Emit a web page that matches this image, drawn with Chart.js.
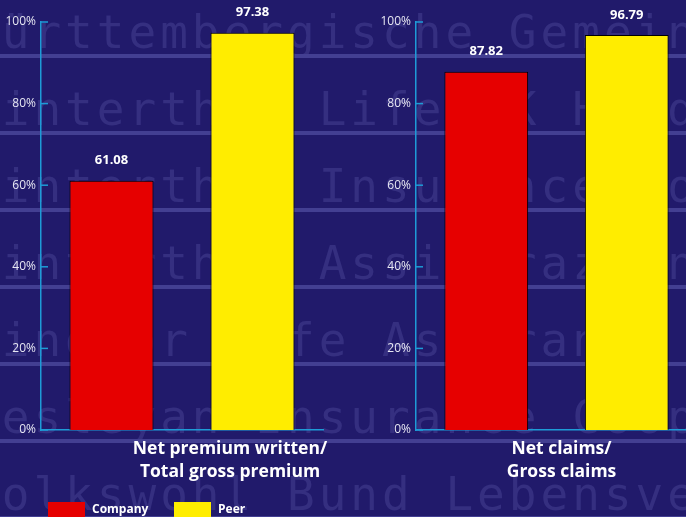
<!DOCTYPE html>
<html>
<head>
<meta charset="utf-8">
<script src="https://cdn.jsdelivr.net/npm/chart.js@4.4.1/dist/chart.umd.min.js"></script>
<style>
html, body { margin: 0; padding: 0; width: 686px; height: 517px; overflow: hidden; background: #211a6b; }
canvas { position: absolute; top: 0; }
#bg { left: 0; }
#c1 { left: 0; }
#c2 { left: 340px; }
</style>
</head>
<body>
<canvas id="bg" width="686" height="517"></canvas>
<canvas id="c1" width="340" height="517"></canvas>
<canvas id="c2" width="370" height="517"></canvas>
<script>
// data
const categories = [['Net premium written/', 'Total gross premium'], ['Net claims/', 'Gross claims']];
const seriesNames = ['Company', 'Peer'];
const company = [61.08, 87.82];
const peer = [97.38, 96.79];
const yTicks = [0, 20, 40, 60, 80, 100];

const colors = ['#e60000', '#ffed00'];
const axisColor = '#1e9bd7';
const font = '"Open Sans", "DejaVu Sans", sans-serif';

// background watermark (decoration only)
function drawBackground() {
    const ctx = document.getElementById('bg').getContext('2d');
    ctx.fillStyle = '#211a6b';
    ctx.fillRect(0, 0, 686, 517);
    const rows = [
        'Württembergische Gemeinde',
        'Winterthur Life UK Holdings',
        'Winterthur Insurance Company',
        'Winterthur Assicurazioni S.p.A.',
        'Windsor Life Assurance Company',
        'Wesleyan Insurance Cooperative',
        'Volkswohl Bund Lebensversicherung'
    ];
    ctx.font = '46px "DejaVu Sans Mono", monospace';
    ctx.letterSpacing = '4px';
    ctx.textBaseline = 'alphabetic';
    rows.forEach((txt, i) => {
        ctx.fillStyle = '#352f80';
        ctx.fillText(txt, -30, 48 + i * 77);
        ctx.fillStyle = '#433f92';
        ctx.fillRect(0, 54 + i * 77, 686, 4);
    });
}
drawBackground();

const innerTicks = {
    id: 'innerTicks',
    afterDraw(chart) {
        const y = chart.scales.y;
        const ctx = chart.ctx;
        ctx.save();
        ctx.strokeStyle = axisColor;
        ctx.lineWidth = 1.5;
        y.ticks.forEach((t, i) => {
            const py = y.getPixelForTick(i);
            ctx.beginPath();
            ctx.moveTo(y.right, py);
            ctx.lineTo(y.right + 7, py);
            ctx.stroke();
        });
        ctx.restore();
    }
};

const valueLabels = {
    id: 'valueLabels',
    afterDatasetsDraw(chart) {
        const ctx = chart.ctx;
        ctx.save();
        ctx.fillStyle = '#ffffff';
        ctx.font = 'bold 13px ' + font;
        ctx.textAlign = 'center';
        ctx.textBaseline = 'middle';
        chart.data.datasets.forEach((ds, di) => {
            chart.getDatasetMeta(di).data.forEach((bar, i) => {
                ctx.fillText(ds.data[i].toFixed(2), bar.x, bar.y - 20);
            });
        });
        ctx.restore();
    }
};

const bottomLegend = {
    id: 'bottomLegend',
    afterDraw(chart) {
        const ctx = chart.ctx;
        const xs = [48, 174];
        ctx.save();
        ctx.font = 'bold 12px ' + font;
        ctx.textBaseline = 'middle';
        chart.data.datasets.forEach((ds, i) => {
            ctx.fillStyle = ds.backgroundColor;
            ctx.fillRect(xs[i], 502, 37, 20);
            ctx.fillStyle = '#ffffff';
            ctx.fillText(ds.label, xs[i] + 44, 510);
        });
        ctx.restore();
    }
};

function makeChart(id, idx, padLeft, padRight, labelOffset, withLegend) {
    const plugins = [innerTicks, valueLabels];
    if (withLegend) plugins.push(bottomLegend);
    return new Chart(document.getElementById(id), {
        type: 'bar',
        data: {
            labels: [categories[idx]],
            datasets: [
                { label: seriesNames[0], data: [company[idx]], backgroundColor: colors[0], borderColor: '#000', borderWidth: 1 },
                { label: seriesNames[1], data: [peer[idx]], backgroundColor: colors[1], borderColor: '#000', borderWidth: 1 }
            ]
        },
        options: {
            responsive: false,
            animation: false,
            layout: { autoPadding: false, padding: { top: 22, left: padLeft, right: padRight, bottom: 0 } },
            datasets: { bar: { categoryPercentage: 1.0, barPercentage: 0.596 } },
            plugins: { legend: { display: false }, tooltip: { enabled: false } },
            scales: {
                x: {
                    grid: { display: false, drawTicks: false },
                    border: { display: true, color: axisColor, width: 1.5 },
                    ticks: {
                        color: '#ffffff',
                        font: { family: font, size: 17.5, weight: 'bold', lineHeight: 1.35 },
                        padding: 7,
                        labelOffset: labelOffset,
                        maxRotation: 0,
                        autoSkip: false
                    },
                    afterFit(scale) { scale.height = 87; }
                },
                y: {
                    min: 0,
                    max: 100,
                    afterBuildTicks(scale) { scale.ticks = yTicks.map(v => ({ value: v })); },
                    grid: { display: false, drawTicks: false },
                    border: { display: true, color: axisColor, width: 1.5 },
                    ticks: {
                        color: '#e6e6f2',
                        font: { family: font, size: 12 },
                        padding: 5,
                        callback: v => v + '%'
                    },
                    afterFit(scale) { scale.width = 41; }
                }
            }
        },
        plugins: plugins
    });
}

makeChart('c1', 0, 0, 17, 48, true);
makeChart('c2', 1, 35, 13, 5, false);
</script>
</body>
</html>
